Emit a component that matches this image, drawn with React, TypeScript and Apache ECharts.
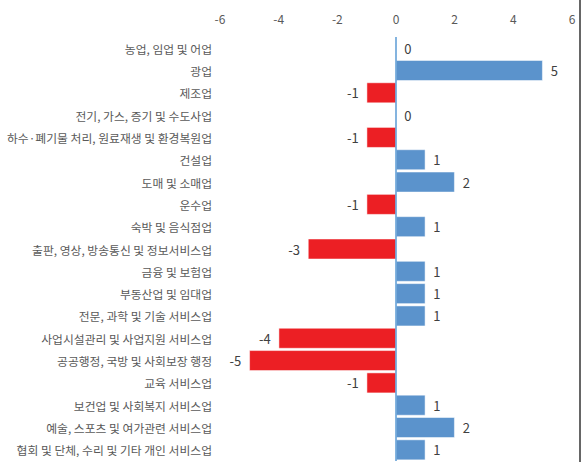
import React, { useEffect, useRef } from "react";
import * as echarts from "echarts";

const categories: string[] = [
  "농업, 임업 및 어업",
  "광업",
  "제조업",
  "전기, 가스, 증기 및 수도사업",
  "하수·폐기물 처리, 원료재생 및 환경복원업",
  "건설업",
  "도매 및 소매업",
  "운수업",
  "숙박 및 음식점업",
  "출판, 영상, 방송통신 및 정보서비스업",
  "금융 및 보험업",
  "부동산업 및 임대업",
  "전문, 과학 및 기술 서비스업",
  "사업시설관리 및 사업지원 서비스업",
  "공공행정, 국방 및 사회보장 행정",
  "교육 서비스업",
  "보건업 및 사회복지 서비스업",
  "예술, 스포츠 및 여가관련 서비스업",
  "협회 및 단체, 수리 및 기타 개인 서비스업",
];

const values: number[] = [0, 5, -1, 0, -1, 1, 2, -1, 1, -3, 1, 1, 1, -4, -5, -1, 1, 2, 1];

const axisMin = -6;
const axisMax = 6;
const axisInterval = 2;

const BLUE = "#5B93CC";
const RED = "#EC1F24";

export default function App() {
  const ref = useRef<HTMLDivElement>(null);

  useEffect(() => {
    if (!ref.current) return;
    const chart = echarts.init(ref.current, undefined, { renderer: "svg" });
    const font = "'Noto Sans CJK KR', 'Noto Sans', sans-serif";
    chart.setOption({
      animation: false,
      backgroundColor: "#ffffff",
      grid: { left: 220, right: 12, top: 37, bottom: 1, containLabel: false },
      xAxis: {
        type: "value",
        position: "top",
        min: axisMin,
        max: axisMax,
        interval: axisInterval,
        axisLine: { show: false },
        axisTick: { show: false },
        splitLine: { show: false },
        axisLabel: { color: "#595959", fontSize: 12, fontFamily: font, margin: 13 },
      },
      yAxis: {
        type: "category",
        data: categories,
        inverse: true,
        axisLine: { show: false, onZero: false },
        axisTick: { show: false },
        axisLabel: { color: "#595959", fontSize: 11.8, fontFamily: font, margin: 8 },
      },
      series: [
        {
          type: "bar",
          barCategoryGap: "8%",
          data: values.map((v) => ({
            value: v,
            itemStyle: { color: v < 0 ? RED : BLUE, borderColor: "#ffffff", borderWidth: 0.5 },
            label: { position: v < 0 ? "left" : "right" },
          })),
          label: {
            show: true,
            distance: 8,
            color: "#404040",
            fontSize: 13,
            fontFamily: font,
          },
          markLine: {
            silent: true,
            symbol: "none",
            label: { show: false },
            lineStyle: { color: "#5B9BD5", width: 1.5, type: "solid" },
            data: [{ xAxis: 0 }],
          },
        },
      ],
      graphic: [
        {
          type: "line",
          shape: { x1: 580, y1: 0, x2: 580, y2: 462 },
          style: { stroke: "#333333", lineWidth: 1.5 },
        },
      ],
    });
    return () => chart.dispose();
  }, []);

  return (
    <div
      ref={ref}
      style={{ position: "fixed", left: 0, top: 0, width: 584, height: 462 }}
    />
  );
}
